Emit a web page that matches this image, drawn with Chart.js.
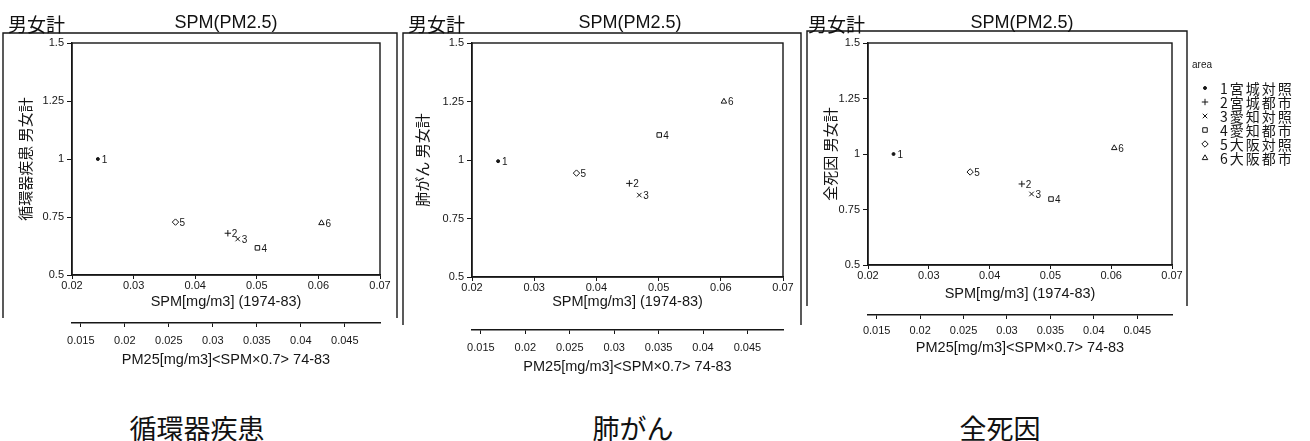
<!DOCTYPE html>
<html>
<head>
<meta charset="utf-8">
<script src="https://cdn.jsdelivr.net/npm/chart.js@4.4.1/dist/chart.umd.min.js"></script>
<style>
  body { margin: 0; width: 1310px; height: 441px; position: relative; overflow: hidden; background: #fff;
         font-family: "Liberation Sans", "Noto Sans CJK JP", sans-serif; color: #111; }
  canvas { position: absolute; top: 0; }
  .t { position: absolute; white-space: nowrap; line-height: 1; }
  .sex { font: 19px "Noto Sans CJK JP"; top: 10px; }
  .hd { font: 18px "Liberation Sans"; top: 12px; width: 200px; text-align: center; }
  .cap { font: 27px "Noto Sans CJK JP"; top: 408px; width: 200px; text-align: center; }
</style>
</head>
<body>
<canvas id="c1" width="400" height="380" style="left:0px"></canvas>
<canvas id="c2" width="405" height="380" style="left:400px"></canvas>
<canvas id="c3" width="505" height="380" style="left:805px"></canvas>

<div class="t sex" style="left:8px">男女計</div>
<div class="t hd" style="left:126px">SPM(PM2.5)</div>
<div class="t sex" style="left:408px">男女計</div>
<div class="t hd" style="left:530px">SPM(PM2.5)</div>
<div class="t sex" style="left:808px">男女計</div>
<div class="t hd" style="left:922px">SPM(PM2.5)</div>

<div class="t cap" style="left:97px">循環器疾患</div>
<div class="t cap" style="left:533px">肺がん</div>
<div class="t cap" style="left:900px">全死因</div>

<script>
// areas (legend order) and their numbers shown next to each point
const areas = ['1宮城対照', '2宮城都市', '3愛知対照', '4愛知都市', '5大阪対照', '6大阪都市'];
const areaNums = ['1', '2', '3', '4', '5', '6'];

// SPM mg/m3 (1974-83) per area, same for all three panels
const spm = [0.0242, 0.0453, 0.0469, 0.0501, 0.0368, 0.0605];

// ratio, 男女計
const circulatory = [1.0, 0.68, 0.655, 0.617, 0.728, 0.724];
const lungCancer = [0.995, 0.90, 0.85, 1.107, 0.944, 1.25];
const allCause = [1.0, 0.865, 0.82, 0.797, 0.919, 1.027];

const spmTicks = [0.02, 0.03, 0.04, 0.05, 0.06, 0.07];
const pm25Ticks = [0.015, 0.02, 0.025, 0.03, 0.035, 0.04, 0.045];
const yTicks = [0.5, 0.75, 1, 1.25, 1.5];
const pmRatio = 0.7;

const ink = '#161616';
const markerStyles = ['circle', 'cross', 'crossRot', 'rect', 'rectRot', 'triangle'];
const tickFont = { family: '"Liberation Sans", sans-serif', size: 11 };
const axisFont = { family: '"Liberation Sans", "Noto Sans CJK JP", sans-serif', size: 14.5 };

function drawMarker(ctx, ds, x, y) {
  ctx.fillStyle = ds.pointBackgroundColor;
  ctx.strokeStyle = ds.pointBorderColor;
  ctx.lineWidth = ds.pointBorderWidth;
  if (Chart.helpers && Chart.helpers.drawPoint) {
    Chart.helpers.drawPoint(ctx, { pointStyle: ds.pointStyle, radius: ds.pointRadius, borderWidth: ds.pointBorderWidth, rotation: 0 }, x, y);
  } else {
    ctx.beginPath(); ctx.arc(x, y, ds.pointRadius, 0, Math.PI * 2); ctx.fill(); ctx.stroke();
  }
}

// outer panel box, plot frame and (panel 3) the area legend
const framePlugin = {
  id: 'panelFrame',
  afterDraw(chart, args, opts) {
    const { ctx, chartArea: a } = chart;
    ctx.save();
    ctx.strokeStyle = ink;
    ctx.lineWidth = 1.4;
    ctx.strokeRect(a.left, a.top, a.right - a.left, a.bottom - a.top);
    ctx.beginPath();
    ctx.moveTo(opts.left, opts.bottom);
    ctx.lineTo(opts.left, opts.top);
    ctx.lineTo(opts.right, opts.top);
    ctx.lineTo(opts.right, opts.bottom);
    ctx.stroke();
    if (opts.legend) {
      const lg = opts.legend;
      ctx.fillStyle = ink;
      ctx.textBaseline = 'middle';
      ctx.font = '10px "Liberation Sans"';
      ctx.fillText('area', lg.x, lg.y);
      ctx.font = '14px "Noto Sans CJK JP"';
      ctx.letterSpacing = '2px';
      chart.data.datasets.forEach((ds, i) => {
        const ry = lg.y + lg.first + i * lg.row;
        drawMarker(ctx, ds, lg.x + 13, ry);
        ctx.fillStyle = ink;
        ctx.fillText(ds.label, lg.x + 28, ry + 1);
      });
      ctx.letterSpacing = '0px';
    }
    ctx.restore();
  }
};

// the number of the area written beside each point
const numberPlugin = {
  id: 'pointNumbers',
  afterDatasetsDraw(chart) {
    const ctx = chart.ctx;
    ctx.save();
    ctx.font = '10px "Liberation Sans"';
    ctx.fillStyle = ink;
    ctx.textBaseline = 'middle';
    chart.data.datasets.forEach((ds, i) => {
      chart.getDatasetMeta(i).data.forEach(pt => ctx.fillText(areaNums[i], pt.x + 4, pt.y + 1));
    });
    ctx.restore();
  }
};

function makePanel(id, values, yTitle, lay) {
  const datasets = areas.map((name, i) => ({
    label: name,
    data: [{ x: spm[i], y: values[i] }],
    pointStyle: markerStyles[i],
    pointRadius: i === 0 ? 1.5 : 3.2,
    pointBorderWidth: 1,
    pointBorderColor: ink,
    pointBackgroundColor: i === 0 ? ink : 'rgba(0,0,0,0)'
  }));

  return new Chart(document.getElementById(id), {
    type: 'scatter',
    data: { datasets },
    options: {
      responsive: false,
      animation: false,
      devicePixelRatio: 1,
      layout: { padding: lay.pad },
      plugins: {
        legend: { display: false },
        tooltip: { enabled: false },
        panelFrame: lay.frame
      },
      scales: {
        x: {
          type: 'linear', position: 'bottom', weight: 0,
          min: spmTicks[0], max: spmTicks[spmTicks.length - 1],
          afterBuildTicks: s => { s.ticks = spmTicks.map(v => ({ value: v })); },
          afterFit: s => { s.height = lay.xH; },
          grid: { drawOnChartArea: false, tickLength: 4, color: ink },
          border: { color: ink, width: 1.4 },
          ticks: { font: tickFont, color: ink, padding: 0, maxRotation: 0, callback: v => String(v) },
          title: { display: true, text: 'SPM[mg/m3] (1974-83)', font: axisFont, color: ink, padding: { top: 0, bottom: lay.xTitlePad } }
        },
        x2: {
          type: 'linear', position: 'bottom', weight: 1,
          min: spmTicks[0] * pmRatio, max: spmTicks[spmTicks.length - 1] * pmRatio,
          afterBuildTicks: s => { s.ticks = pm25Ticks.map(v => ({ value: v })); },
          afterFit: s => { s.height = lay.x2H; },
          grid: { drawOnChartArea: false, tickLength: 4, color: ink },
          border: { color: ink, width: 1.4 },
          ticks: { font: tickFont, color: ink, padding: lay.x2TickPad, maxRotation: 0, callback: v => String(v) },
          title: { display: true, text: 'PM25[mg/m3]<SPM×0.7> 74-83', font: axisFont, color: ink, padding: { top: 0, bottom: lay.x2TitlePad } }
        },
        y: {
          type: 'linear', position: 'left',
          min: yTicks[0], max: yTicks[yTicks.length - 1],
          afterBuildTicks: s => { s.ticks = yTicks.map(v => ({ value: v })); },
          afterFit: s => { s.width = lay.yW; },
          grid: { drawOnChartArea: false, tickLength: 5, color: ink },
          border: { color: ink, width: 1.4 },
          ticks: { font: tickFont, color: ink, padding: 3, callback: v => String(v) },
          title: { display: true, text: yTitle, font: { family: '"Noto Sans CJK JP", sans-serif', size: 15 }, color: ink, padding: { top: lay.yTitlePad, bottom: 0 } }
        }
      }
    },
    plugins: [framePlugin, numberPlugin]
  });
}

makePanel('c1', circulatory, '循環器疾患 男女計', {
  pad: { top: 43, left: 0, right: 20, bottom: 10 },
  yW: 72, xH: 48, x2H: 47, xTitlePad: 12, x2TitlePad: 1, x2TickPad: 7, yTitlePad: 16,
  frame: { left: 3, right: 397, top: 33, bottom: 318 }
});

makePanel('c2', lungCancer, '肺がん 男女計', {
  pad: { top: 43, left: 0, right: 22, bottom: 3 },
  yW: 72, xH: 53, x2H: 47, xTitlePad: 19, x2TitlePad: 1, x2TickPad: 7, yTitlePad: 13,
  frame: { left: 3, right: 401, top: 33, bottom: 325 }
});

makePanel('c3', allCause, '全死因 男女計', {
  pad: { top: 43, left: 0, right: 138, bottom: 20 },
  yW: 63, xH: 50, x2H: 45, xTitlePad: 12, x2TitlePad: 3, x2TickPad: 5, yTitlePad: 16,
  frame: { left: 2, right: 382, top: 31, bottom: 306,
           legend: { x: 387, y: 65, first: 23, row: 14 } }
});
</script>
</body>
</html>
